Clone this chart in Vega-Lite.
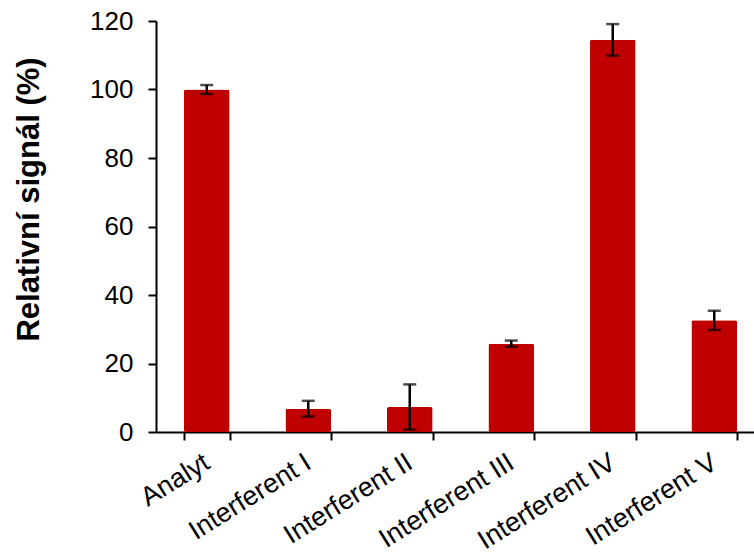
{
  "$schema": "https://vega.github.io/schema/vega-lite/v6.json",
  "autosize": "none",
  "width": 598,
  "height": 411,
  "padding": {"left": 156, "top": 21, "right": 0, "bottom": 126},
  "background": "white",
  "config": {
    "view": {"stroke": null},
    "font": "Liberation Sans",
    "axis": {"grid": false, "domainColor": "black", "tickColor": "black", "labelColor": "black", "titleColor": "black", "labelFont": "Liberation Sans", "titleFont": "Liberation Sans"}
  },
  "data": {
    "values": [
      {"category": "Analyt", "value": 100.0, "err": 1.3},
      {"category": "Interferent I", "value": 6.8, "err": 2.3},
      {"category": "Interferent II", "value": 7.3, "err": 6.6},
      {"category": "Interferent III", "value": 25.8, "err": 0.9},
      {"category": "Interferent IV", "value": 114.5, "err": 4.6},
      {"category": "Interferent V", "value": 32.6, "err": 2.8}
    ]
  },
  "encoding": {
    "x": {
      "field": "category",
      "type": "nominal",
      "sort": null,
      "scale": {"range": [0, 609], "paddingInner": 0.55, "paddingOuter": 0.275},
      "axis": {
        "title": null,
        "labelAngle": -32,
        "labelAlign": "right",
        "labelBaseline": "middle",
        "labelFontSize": 27,
        "labelPadding": 20,
        "labelOffset": 0,
        "tickBand": "extent",
        "tickSize": 8,
        "tickWidth": 2,
        "domainWidth": 2
      }
    }
  },
  "layer": [
    {
      "mark": {"type": "bar", "color": "#C00000", "cornerRadius": 2},
      "encoding": {
        "y": {
          "field": "value",
          "type": "quantitative",
          "title": "Relativní signál (%)",
          "scale": {"domain": [0, 120], "nice": false},
          "axis": {
            "values": [0, 20, 40, 60, 80, 100, 120],
            "labelFontSize": 26,
            "labelPadding": 15,
            "tickSize": 8,
            "tickWidth": 2,
            "domainWidth": 2,
            "titleFontSize": 31,
            "titleFontWeight": "bold",
            "titleAngle": 270,
            "titleAlign": "center",
            "titleBaseline": "middle",
            "titleX": -127,
            "titleY": 178
          }
        }
      }
    },
    {
      "mark": {"type": "errorbar", "color": "black", "thickness": 2.5, "ticks": {"size": 13, "thickness": 2.5, "color": "black"}},
      "encoding": {
        "y": {"field": "value", "type": "quantitative", "title": "Relativní signál (%)"},
        "yError": {"field": "err"}
      }
    }
  ]
}
